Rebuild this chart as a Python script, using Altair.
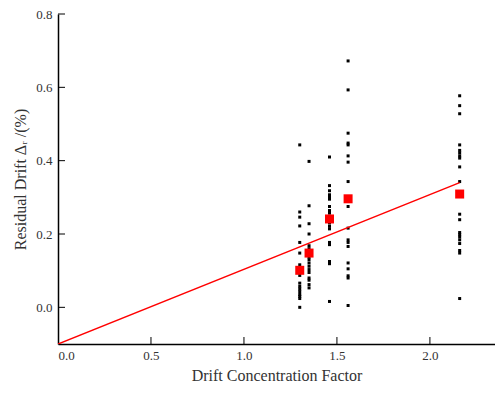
import altair as alt
import pandas as pd

# Drift concentration factor groups
x_groups = [1.30, 1.35, 1.46, 1.56, 2.16]

col1 = [0.443, 0.260, 0.246, 0.222, 0.177, 0.148, 0.116, 0.087, 0.066, 0.057,
        0.050, 0.043, 0.035, 0.030, 0.024, 0.000]
col2 = [0.398, 0.277, 0.228, 0.200, 0.168, 0.160, 0.137, 0.130, 0.121, 0.112,
        0.103, 0.095, 0.080, 0.074, 0.062, 0.053]
col3 = [0.410, 0.332, 0.318, 0.307, 0.301, 0.295, 0.275, 0.264, 0.257, 0.248,
        0.230, 0.221, 0.214, 0.177, 0.171, 0.125, 0.119, 0.016]
col4 = [0.672, 0.593, 0.475, 0.448, 0.443, 0.413, 0.396, 0.343, 0.275, 0.216,
        0.184, 0.177, 0.166, 0.121, 0.105, 0.086, 0.080, 0.005]
col5 = [0.577, 0.550, 0.528, 0.443, 0.428, 0.421, 0.413, 0.407, 0.383, 0.343,
        0.254, 0.239, 0.204, 0.198, 0.192, 0.184, 0.174, 0.155, 0.148, 0.024]

mean_values = [0.101, 0.148, 0.241, 0.296, 0.309]

fit_x = [0.0, 2.16]
fit_y = [-0.1, 0.34]

x_ticks = [0.5, 1.0, 1.5, 2.0]
y_ticks = [0.0, 0.2, 0.4, 0.6, 0.8]

W, H = 437, 330
FONT = "Liberation Serif"

rows = []
for xv, col in zip(x_groups, [col1, col2, col3, col4, col5]):
    for v in col:
        rows.append({"x": xv, "y": v})
pts = pd.DataFrame(rows)
means = pd.DataFrame({"x": x_groups, "y": mean_values})
fit = pd.DataFrame({"x": fit_x, "y": fit_y})

xscale = alt.Scale(domain=[0, 2.35], nice=False, zero=False)
yscale = alt.Scale(domain=[-0.1, 0.8], nice=False, zero=False)

xaxis = alt.Axis(values=[0.0, 0.5, 1.0, 1.5, 2.0], format=".1f", tickSize=0,
                 domainColor="black", domainWidth=1.5, grid=False,
                 labelFont=FONT, labelFontSize=13, labelColor="#333333",
                 labelPadding=5, title="Drift Concentration Factor",
                 titleFont=FONT, titleFontSize=16, titleFontWeight="normal",
                 titleColor="#333333", titlePadding=5)
yaxis = alt.Axis(values=y_ticks, format=".1f", tickSize=0,
                 domainColor="black", domainWidth=1.5, grid=False,
                 labelFont=FONT, labelFontSize=13, labelColor="#333333",
                 labelPadding=6, title="Residual Drift Δᵣ /(%)",
                 titleFont=FONT, titleFontSize=16, titleFontWeight="normal",
                 titleColor="#333333", titlePadding=7)

black = alt.Chart(pts).mark_square(color="black", size=9, opacity=1).encode(
    x=alt.X("x:Q", scale=xscale, axis=xaxis),
    y=alt.Y("y:Q", scale=yscale, axis=yaxis),
)

line = alt.Chart(fit).mark_line(color="#ff0000", strokeWidth=1.5, clip=True).encode(
    x=alt.X("x:Q", scale=xscale), y=alt.Y("y:Q", scale=yscale)
)

red = alt.Chart(means).mark_square(color="#ff0000", size=81, opacity=1).encode(
    x=alt.X("x:Q", scale=xscale), y=alt.Y("y:Q", scale=yscale)
)

xt = alt.Chart(pd.DataFrame({"t": x_ticks})).mark_rule(color="black", strokeWidth=1).encode(
    x=alt.X("t:Q", scale=xscale), y=alt.value(H), y2=alt.value(H - 7)
)
yt = alt.Chart(pd.DataFrame({"t": y_ticks})).mark_rule(color="black", strokeWidth=1).encode(
    y=alt.Y("t:Q", scale=yscale), x=alt.value(0), x2=alt.value(7)
)

chart = alt.layer(black, line, red, xt, yt).properties(
    width=W, height=H,
    background="white",
    autosize=alt.AutoSizeParams(type="none"),
    padding={"left": 50, "top": 6, "right": 0, "bottom": 41},
).configure_view(strokeWidth=0)

chart.save("out.html", embed_options={"renderer": "svg", "actions": False})
